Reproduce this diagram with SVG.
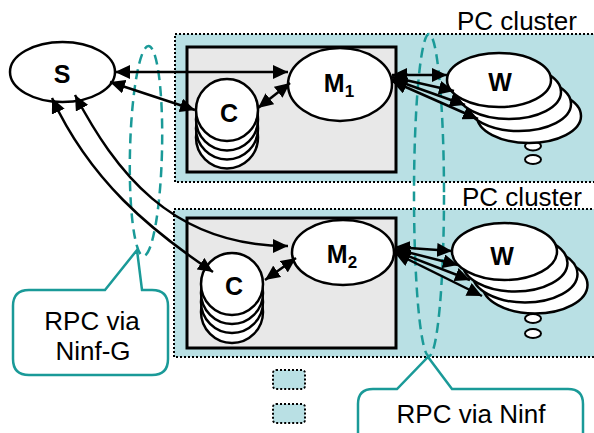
<svg xmlns="http://www.w3.org/2000/svg" width="594" height="433" viewBox="0 0 594 433">
<style>
.cluster{fill:#b9e0e4;stroke:#000;stroke-width:2;stroke-dasharray:2 2}
.box{fill:#e8e8e8;stroke:#000;stroke-width:3}
.node{fill:#fff;stroke:#000;stroke-width:2.5}
.small{fill:#fff;stroke:#000;stroke-width:2}
.lbl{font-family:"Liberation Sans",Arial,sans-serif;font-weight:bold;font-size:25px;fill:#000;text-anchor:middle}
.sub{font-size:17px}
.txt{font-family:"Liberation Sans",Arial,sans-serif;font-size:26px;fill:#000;text-anchor:middle}
.rpc{fill:none;stroke:#1a9a98;stroke-width:2.5;stroke-dasharray:10 6}
.callout{fill:#fff;stroke:#1a9a98;stroke-width:2.5}
.conn{fill:none;stroke:#000;stroke-width:2.5;marker-start:url(#ah);marker-end:url(#ah)}
</style>
<defs>
<marker id="ah" markerUnits="userSpaceOnUse" markerWidth="16" markerHeight="14" refX="15" refY="7" orient="auto-start-reverse" viewBox="0 0 16 14">
<path d="M0,0 L15,7 L0,14 z" fill="#000"/>
</marker>
</defs>
<rect width="594" height="433" fill="#fff"/>
<g id="cluster1">
<rect class="cluster" x="175" y="34" width="440" height="148"/>
<text class="txt" x="517" y="30">PC cluster</text>
</g>
<g id="cluster2">
<rect class="cluster" x="174" y="209" width="440" height="148"/>
<text class="txt" x="522" y="206">PC cluster</text>
</g>
<g id="master1-box"><rect class="box" x="187" y="47" width="209" height="125"/></g>
<g id="master2-box"><rect class="box" x="187" y="218" width="209" height="130"/></g>
<g id="rpc-ninfg"><ellipse class="rpc" cx="146" cy="151" rx="16" ry="105" transform="rotate(1.4 146 151)"/></g>
<g id="rpc-ninf"><ellipse class="rpc" cx="429" cy="195" rx="15" ry="161"/></g>
<g id="S">
<ellipse class="node" cx="62.5" cy="72" rx="52.5" ry="30"/>
<text class="lbl" x="62" y="83">S</text>
</g>
<g id="C1">
<circle class="node" cx="227" cy="137.5" r="31"/>
<circle class="node" cx="227" cy="128.5" r="31"/>
<circle class="node" cx="227" cy="119.5" r="31"/>
<circle class="node" cx="227" cy="110" r="31"/>
<text class="lbl" x="229" y="122">C</text>
</g>
<g id="C2">
<circle class="node" cx="232" cy="312" r="31"/>
<circle class="node" cx="232" cy="302" r="31"/>
<circle class="node" cx="232" cy="293" r="31"/>
<circle class="node" cx="232" cy="284" r="31"/>
<text class="lbl" x="234" y="295">C</text>
</g>
<g id="M1">
<ellipse class="node" cx="340" cy="84.5" rx="52" ry="36.5"/>
<text class="lbl" x="339" y="92">M<tspan class="sub" dy="5">1</tspan></text>
</g>
<g id="M2">
<ellipse class="node" cx="343" cy="252.5" rx="51" ry="32.5"/>
<text class="lbl" x="342" y="263">M<tspan class="sub" dy="5">2</tspan></text>
</g>
<g id="W1">
<ellipse class="small" cx="533" cy="159.5" rx="8" ry="4.5"/>
<ellipse class="small" cx="533" cy="146" rx="8" ry="4.5"/>
<ellipse class="node" cx="529" cy="116" rx="52" ry="27"/>
<ellipse class="node" cx="519" cy="104" rx="52" ry="27"/>
<ellipse class="node" cx="509" cy="92" rx="52" ry="27"/>
<ellipse class="node" cx="499" cy="80" rx="52" ry="27"/>
<text class="lbl" x="500" y="91">W</text>
</g>
<g id="W2">
<ellipse class="small" cx="533" cy="333.5" rx="8" ry="4.5"/>
<ellipse class="small" cx="533" cy="318.5" rx="8" ry="4.5"/>
<ellipse class="node" cx="535" cy="285" rx="52.5" ry="28.5"/>
<ellipse class="node" cx="525" cy="274" rx="52.5" ry="28.5"/>
<ellipse class="node" cx="515" cy="263" rx="52.5" ry="28.5"/>
<ellipse class="node" cx="504.5" cy="251.5" rx="52.5" ry="28.5"/>
<text class="lbl" x="502" y="265">W</text>
</g>
<g id="connectors">
<line class="conn" x1="115" y1="72" x2="288" y2="72"/>
<line class="conn" x1="110" y1="82" x2="195" y2="110"/>
<line class="conn" x1="258" y1="108" x2="290" y2="83"/>
<path class="conn" d="M75,95 C115,170 170,246 288,246"/>
<path class="conn" d="M52,98 C90,180 150,230 213,272"/>
<line class="conn" x1="265" y1="280" x2="296" y2="258"/>
<line class="conn" x1="392" y1="75" x2="447" y2="75"/>
<line class="conn" x1="392" y1="77" x2="454" y2="91"/>
<line class="conn" x1="392" y1="79" x2="465" y2="105"/>
<line class="conn" x1="392" y1="81" x2="478" y2="119"/>
<line class="conn" x1="395" y1="247" x2="452" y2="251"/>
<line class="conn" x1="395" y1="249" x2="458" y2="265"/>
<line class="conn" x1="395" y1="251" x2="470" y2="280"/>
<line class="conn" x1="395" y1="253" x2="482" y2="296"/>
</g>
<g id="callout-ninfg">
<path class="callout" d="M29,290 L105,290 L137,250 L142,290 L152,290 Q168,290 168,306 L168,359 Q168,375 152,375 L29,375 Q13,375 13,359 L13,306 Q13,290 29,290 Z"/>
<text class="txt" x="92" y="330">RPC via</text>
<text class="txt" x="93" y="360">Ninf-G</text>
</g>
<g id="callout-ninf">
<path class="callout" d="M373,389 L397,389 L428,357 L452,389 L568,389 Q583,389 583,404 L583,445 L358,445 L358,404 Q358,389 373,389 Z"/>
<text class="txt" x="471" y="423">RPC via Ninf</text>
</g>
<g id="legend">
<rect class="cluster" x="273" y="370" width="32" height="19" rx="3"/>
<rect class="cluster" x="273" y="404" width="32" height="19" rx="3"/>
</g>
</svg>
